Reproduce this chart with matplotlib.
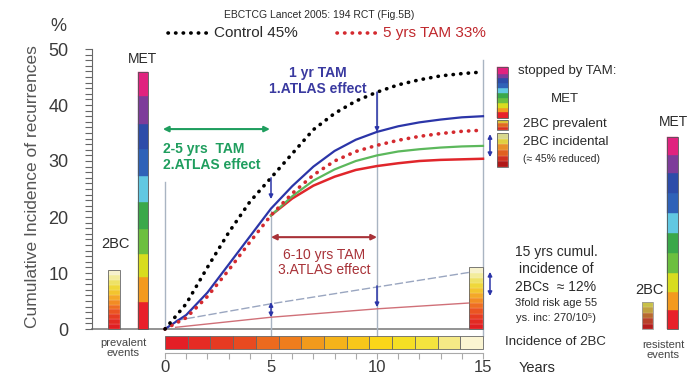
import numpy as np
import matplotlib
matplotlib.use("Agg")
import matplotlib.pyplot as plt

plt.rcParams['font.family'] = ['Liberation Sans', 'DejaVu Sans']

# curves (cumulative incidence, %)
YEARS = list(range(16))
CONTROL = [0, 4.5, 11, 17.2, 22.7, 27, 31.3, 35.6, 38.5, 40.7, 42.3, 43.6, 44.5, 45.2, 45.6, 45.9]
TAM_1YR = [0, 2.5, 6.5, 11.5, 16.5, 21.5, 25.5, 29, 31.8, 33.8, 35.2, 36.2, 36.9, 37.4, 37.8, 38.0]
TAM_5YR = [0, 2, 5.8, 10.5, 15.5, 20.3, 24.2, 27.5, 30, 31.7, 32.8, 33.7, 34.4, 34.9, 35.3, 35.5]
LATE_YEARS = list(range(5, 16))
TAM_2_5 = [20.3, 23.7, 26.5, 28.5, 30, 31, 31.7, 32.1, 32.4, 32.6, 32.7]
TAM_6_10 = [20.3, 23.3, 25.6, 27.2, 28.4, 29.1, 29.6, 30, 30.2, 30.3, 30.4]

# second breast cancer lines
BC2_YEARS = [0.5, 5, 10, 15]
BC2_CONTROL = [1.5, 4.5, 7.5, 10.5]
BC2_TAM = [0.3, 2.1, 3.6, 4.8]

# colour blocks
MET_COLORS = ['#e8202a', '#f39a1f', '#d8dc1f', '#6cbf3f', '#3ba84a',
              '#62c8e2', '#2f62b8', '#2d4ca9', '#7d3c9a', '#e0237f']
MET_LEFT = [0, 4.8, 9.3, 13.4, 17.9, 22.7, 27.3, 32.1, 36.6, 41.6, 45.9]
MET_RIGHT = [0, 3.4, 6.6, 10, 13.6, 17.1, 20.7, 24.3, 27.9, 31.1, 34.3]
MET_STOPPED = [37.7, 38.8, 39.5, 40.3, 41.2, 42.2, 43.0, 44.0, 44.8, 45.6, 46.8]

PREV_COLORS = ['#e01e22', '#e22a22', '#e63c22', '#ea5422', '#ee6e22', '#f28c24',
               '#f4a828', '#f3c42e', '#efd83a', '#eee266', '#f3ec9c', '#f7f2cc']
PREV_TOP = 10.5
BAR15_TOP = 11
STOP_PREV = [35.5, 37.3]
STOP_PREV_COLORS = ['#d83020', '#e06a20', '#d8c030']
STOP_INC = [28.9, 35.0]
STOP_INC_COLORS = ['#b01818', '#d03020', '#e06020', '#e89028', '#e0d040', '#d8d890']
RESIST_TOP = 4.8
RESIST_COLORS = ['#b51d1d', '#b8402a', '#b86a30', '#c0a040', '#c8c048']

INCIDENCE_COLORS = ['#e41e26', '#e52b24', '#e63a22', '#e84a20', '#ec6a1e', '#ef7d1d', '#f19a1c',
                    '#f5b31a', '#f8c71a', '#fad619', '#f5df24', '#f4e43e', '#f6ea86', '#fbf5d2']

BLUE = '#2b35a8'
GREEN = '#1f9e5e'
DARKRED = '#a83238'
TXT = '#2a2a2a'

fig = plt.figure(figsize=(6.99, 3.78), dpi=100)
ax = fig.add_axes([0, 0, 1, 1])
ax.set_xlim(-7.783, 25.189)
ax.set_ylim(-8.75, 58.75)

# axes styling
for s in ['top', 'right']:
    ax.spines[s].set_visible(False)
ax.spines['left'].set_position(('data', -3.44))
ax.spines['left'].set_bounds(0, 50)
ax.spines['left'].set_color('#666')
ax.spines['bottom'].set_position(('data', -4.3))
ax.spines['bottom'].set_bounds(0, 15)
ax.spines['bottom'].set_color('#aaa')
ax.set_yticks(range(0, 51, 10))
ax.set_yticks(range(0, 51), minor=True)
ax.set_xticks([0, 5, 10, 15])
ax.set_xticks(range(16), minor=True)
ax.tick_params(axis='y', which='both', length=5, width=0.8, color='#666', pad=12,
               labelsize=13, labelcolor='#3a3a3a')
ax.tick_params(axis='x', which='both', length=4, width=0.8, color='#aaa', pad=1,
               labelsize=12, labelcolor='#3a3a3a')

ax.text(-5.05, 54.1, '%', fontsize=13, color='#3a3a3a', ha='center', va='center')
ax.text(-6.23, 25.4, 'Cumulative Incidence of recurrences', rotation=90, fontsize=12.5,
        color='#555', ha='center', va='center')

# guide lines
ax.plot([-3.44, 15], [0, 0], color='#8a8a8a', lw=1.3, zorder=1)
guide = '#a9b4c2'
ax.plot([0, 0], [0, 26.3], color=guide, lw=1, zorder=1)
ax.plot([5, 5], [-1.2, 21], color=guide, lw=1, zorder=1)
ax.plot([10, 10], [-1.2, 42.3], color=guide, lw=1, zorder=1)
ax.plot([15, 15], [-1.2, 48], color=guide, lw=1, zorder=1)

# second breast cancer thin lines
ax.plot(BC2_YEARS, BC2_CONTROL, color='#9aa6c0', lw=1, ls=(0, (6, 2)), zorder=2)
ax.plot(BC2_YEARS, BC2_TAM, color='#d07078', lw=1, zorder=2)

# main curves
ax.plot(LATE_YEARS, TAM_6_10, color='#e0262b', lw=1.8, zorder=3)
ax.plot(LATE_YEARS, TAM_2_5, color='#5cb85c', lw=1.6, zorder=3)
ax.plot(YEARS, TAM_1YR, color=BLUE, lw=1.6, zorder=4)
ax.plot(YEARS, TAM_5YR, color='#d42a2f', lw=2.6, ls=(0, (0.1, 2)),
        dash_capstyle='round', zorder=5)
ax.plot(YEARS, CONTROL, color='black', lw=2.6, ls=(0, (0.1, 2)),
        dash_capstyle='round', zorder=5)

# legend-like header
ax.text(7.27, 56.1, 'EBCTCG Lancet 2005: 194 RCT (Fig.5B)', fontsize=7.5, color=TXT,
        ha='center', va='center')
ax.plot([0.15, 2.0], [52.9, 52.9], color='black', lw=2.6, ls=(0, (0.1, 2)), dash_capstyle='round')
ax.text(2.3, 52.9, 'Control 45%', fontsize=11, color=TXT, va='center')
ax.plot([8.1, 10.0], [52.9, 52.9], color='#d42a2f', lw=2.6, ls=(0, (0.1, 2)), dash_capstyle='round')
ax.text(10.3, 52.9, '5 yrs TAM 33%', fontsize=11, color='#c0282d', va='center')

# annotations: ATLAS effects
ax.text(7.2, 44.3, '1 yr TAM\n1.ATLAS effect', fontsize=10, fontweight='bold', color='#3a3aa0',
        ha='center', va='center', linespacing=1.15)
ax.annotate('', xy=(-0.1, 35.7), xytext=(4.95, 35.7),
            arrowprops=dict(arrowstyle='<|-|>', color=GREEN, lw=1.5, mutation_scale=8,
                            shrinkA=0, shrinkB=0))
ax.text(-0.1, 30.7, '2-5 yrs  TAM\n2.ATLAS effect', fontsize=10, fontweight='bold', color=GREEN,
        ha='left', va='center', linespacing=1.15)
ax.annotate('', xy=(5, 16.4), xytext=(10, 16.4),
            arrowprops=dict(arrowstyle='<|-|>', color=DARKRED, lw=1.5, mutation_scale=8,
                            shrinkA=0, shrinkB=0))
ax.text(7.5, 11.9, '6-10 yrs TAM\n3.ATLAS effect', fontsize=10, color=DARKRED,
        ha='center', va='center', linespacing=1.15)

# blue arrows
def varrow(x, y0, y1, style='-|>'):
    ax.annotate('', xy=(x, y1), xytext=(x, y0),
                arrowprops=dict(arrowstyle=style, color=BLUE, lw=1.1, mutation_scale=6,
                                shrinkA=0, shrinkB=0), zorder=6)

varrow(10, 42.3, 35.2)
varrow(5, 27, 23.2)
varrow(5, 4.8, 2.1, '<|-|>')
varrow(10, 7.7, 3.9)
varrow(15.33, 34.8, 30.7, '<|-|>')
varrow(15.33, 10.2, 5.9, '<|-|>')

# stacked colour columns
def column(x0, x1, bounds, colors, edge='#555', lw=0.6, inner=None):
    w = x1 - x0
    for i, c in enumerate(colors):
        ax.bar(x0 + w / 2, bounds[i + 1] - bounds[i], bottom=bounds[i], width=w, color=c,
               edgecolor=inner if inner else c, linewidth=0.3, zorder=4)
    ax.bar(x0 + w / 2, bounds[-1] - bounds[0], bottom=bounds[0], width=w, fill=False,
           edgecolor=edge, linewidth=lw, zorder=5)

def gradient(x0, x1, y0, y1, colors, edge='#666'):
    bounds = np.linspace(y0, y1, len(colors) + 1)
    column(x0, x1, bounds, colors, edge=edge, inner=(1, 1, 1, 0.35))

column(-1.27, -0.8, MET_LEFT, MET_COLORS)
gradient(-2.69, -2.12, 0, PREV_TOP, PREV_COLORS)
gradient(14.35, 15.0, 0, BAR15_TOP, PREV_COLORS)
column(15.66, 16.18, MET_STOPPED, MET_COLORS)
gradient(15.66, 16.18, STOP_PREV[0], STOP_PREV[1], STOP_PREV_COLORS)
gradient(15.66, 16.18, STOP_INC[0], STOP_INC[1], STOP_INC_COLORS)
column(23.68, 24.2, MET_RIGHT, MET_COLORS)
gradient(22.5, 23.0, 0, RESIST_TOP, RESIST_COLORS, edge='#999')

# incidence bar along the time axis
edges = np.linspace(0, 15, len(INCIDENCE_COLORS) + 1)
ax.bar(edges[:-1], [2.35] * len(INCIDENCE_COLORS), bottom=-3.6, width=np.diff(edges),
       align='edge', color=INCIDENCE_COLORS, edgecolor='#666', linewidth=0.6, zorder=4)

# labels around columns
ax.text(-1.05, 48.3, 'MET', fontsize=10, color=TXT, ha='center', va='center')
ax.text(-2.36, 15.2, '2BC', fontsize=10.5, color=TXT, ha='center', va='center')
ax.text(-1.98, -3.4, 'prevalent\nevents', fontsize=8, color='#444', ha='center', va='center',
        linespacing=0.95)
ax.text(16.65, 46.1, 'stopped by TAM:', fontsize=9.5, color=TXT, va='center')
ax.text(18.87, 41.0, 'MET', fontsize=9.5, color=TXT, ha='center', va='center')
ax.text(16.9, 36.6, '2BC prevalent', fontsize=9.5, color=TXT, va='center')
ax.text(16.9, 33.4, '2BC incidental', fontsize=9.5, color=TXT, va='center')
ax.text(16.9, 30.4, '(≈ 45% reduced)', fontsize=7.5, color=TXT, va='center')
ax.text(24.0, 37.0, 'MET', fontsize=10, color=TXT, ha='center', va='center')
ax.text(22.85, 7.0, '2BC', fontsize=10.5, color=TXT, ha='center', va='center')
ax.text(23.5, -3.8, 'resistent\nevents', fontsize=8, color='#444', ha='center', va='center',
        linespacing=0.95)

ax.text(18.44, 13.75, '15 yrs cumul.', fontsize=10, color=TXT, ha='center', va='center')
ax.text(18.44, 10.7, 'incidence of', fontsize=10, color=TXT, ha='center', va='center')
ax.text(18.44, 7.5, '2BCs  ≈ 12%', fontsize=10, color=TXT, ha='center', va='center')
ax.text(18.44, 4.6, '3fold risk age 55', fontsize=8, color=TXT, ha='center', va='center')
ax.text(18.44, 1.96, 'ys. inc: 270/10⁵)', fontsize=8, color=TXT, ha='center', va='center')
ax.text(18.4, -2.3, 'Incidence of 2BC', fontsize=9.5, color=TXT, ha='center', va='center')
ax.text(17.55, -7.0, 'Years', fontsize=10.5, color=TXT, ha='center', va='center')

fig.savefig('out.png', dpi=100, facecolor='white')
